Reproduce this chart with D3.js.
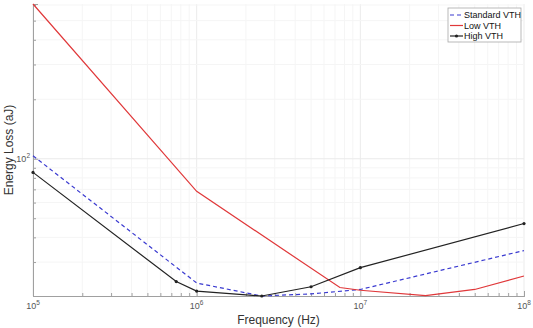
<!DOCTYPE html>
<html>
<head>
  <meta charset="utf-8">
  <title>Energy Loss</title>
  <script src="https://d3js.org/d3.v7.min.js"></script>
  <style>
    body { margin: 0; background: #fff; font-family: "Liberation Sans", Arial, sans-serif; }
    .axis path, .axis line { stroke: #a0a0a0; }
    .grid line { stroke: #f5f5f5; }
    .grid .major { stroke: #ebebeb; }
  </style>
</head>
<body>
<div id="vis"></div>
<script>
  // data
  var freqStd = [1e5, 1e6, 2.5e6, 5e6, 1e7, 1e8];
  var lossStd = [103.5, 23.5, 20.2, 20.7, 21.8, 34.3];

  var freqLow = [1e5, 1e6, 7.5e6, 1e7, 2.5e7, 5e7, 1e8];
  var lossLow = [607, 68.4, 22.3, 21.6, 20.3, 21.8, 25.5];

  var freqHigh = [1e5, 7.5e5, 1e6, 2.5e6, 5e6, 1e7, 1e8];
  var lossHigh = [85.3, 23.9, 21.4, 20.2, 22.5, 28.1, 47.0];

  var xMajor = [1e5, 1e6, 1e7, 1e8];
  var yMajor = [100];
  var seriesNames = ["Standard VTH", "Low VTH", "High VTH"];

  var width = 533, height = 328;
  var margin = { top: 4, right: 9, bottom: 32, left: 33 };
  var w = width - margin.left - margin.right,
      h = height - margin.top - margin.bottom;

  var svg = d3.select("#vis").append("svg")
    .attr("width", width).attr("height", height);
  var g = svg.append("g")
    .attr("transform", "translate(" + margin.left + "," + margin.top + ")");

  var x = d3.scaleLog().domain([1e5, 1e8]).range([0, w]);
  var allLoss = lossStd.concat(lossLow, lossHigh);
  var y = d3.scaleLog().domain(d3.extent(allLoss)).range([h, 0]);

  // minor tick positions
  var xMinor = [];
  xMajor.slice(0, -1).forEach(function (d) {
    for (var k = 2; k <= 9; k++) xMinor.push(d * k);
  });
  var yMinor = [];
  [10, 100].forEach(function (d) {
    for (var k = 1; k <= 9; k++) {
      var v = d * k;
      if (v !== 100 && v >= y.domain()[0] && v <= y.domain()[1]) yMinor.push(v);
    }
  });

  // grid
  var grid = g.append("g").attr("class", "grid");
  grid.selectAll(".vx").data(xMinor.concat(xMajor)).enter().append("line")
    .attr("class", d => xMajor.indexOf(d) >= 0 ? "major" : "minor")
    .attr("x1", d => x(d)).attr("x2", d => x(d))
    .attr("y1", 0).attr("y2", h);
  grid.selectAll(".hy").data(yMinor.concat(yMajor)).enter().append("line")
    .attr("class", d => yMajor.indexOf(d) >= 0 ? "major" : "minor")
    .attr("x1", 0).attr("x2", w)
    .attr("y1", d => y(d)).attr("y2", d => y(d));

  // axes: ticks pointing inward
  g.append("g").attr("class", "axis")
    .attr("transform", "translate(0," + h + ")")
    .call(d3.axisBottom(x).tickValues(xMinor).tickSize(-3).tickFormat(""));
  g.append("g").attr("class", "axis")
    .attr("transform", "translate(0," + h + ")")
    .call(d3.axisBottom(x).tickValues(xMajor).tickSize(-5).tickFormat(""));
  g.append("g").attr("class", "axis")
    .call(d3.axisLeft(y).tickValues(yMinor).tickSize(-3).tickFormat(""));
  g.append("g").attr("class", "axis")
    .call(d3.axisLeft(y).tickValues(yMajor).tickSize(-5).tickFormat(""));

  // power-of-ten labels
  xMajor.forEach(function (d) {
    var t = g.append("text")
      .attr("x", x(d)).attr("y", h + 13)
      .attr("text-anchor", "middle")
      .attr("fill", "#555").attr("font-size", "9px");
    t.append("tspan").text("10");
    t.append("tspan").attr("dy", -4).attr("font-size", "6.5px").text(Math.round(Math.log10(d)));
  });
  yMajor.forEach(function (d) {
    var t = g.append("text")
      .attr("x", -3).attr("y", y(d) + 3)
      .attr("text-anchor", "end")
      .attr("fill", "#555").attr("font-size", "9px");
    t.append("tspan").text("10");
    t.append("tspan").attr("dy", -4).attr("font-size", "6.5px").text(Math.round(Math.log10(d)));
  });

  // axis titles
  svg.append("text")
    .attr("x", margin.left + w / 2).attr("y", 324)
    .attr("text-anchor", "middle")
    .attr("fill", "#333").attr("font-size", "12px")
    .text("Frequency (Hz)");
  svg.append("text")
    .attr("transform", "translate(13," + (margin.top + h / 2) + ") rotate(-90)")
    .attr("text-anchor", "middle")
    .attr("fill", "#333").attr("font-size", "12px")
    .text("Energy Loss (aJ)");

  // series
  var line = d3.line().x(d => x(d[0])).y(d => y(d[1]));
  var series = [
    { name: seriesNames[0], pts: d3.zip(freqStd, lossStd), color: "#3a3ad0", dash: "4,3", marker: false },
    { name: seriesNames[1], pts: d3.zip(freqLow, lossLow), color: "#e0383a", dash: null, marker: false },
    { name: seriesNames[2], pts: d3.zip(freqHigh, lossHigh), color: "#222", dash: null, marker: true }
  ];

  series.forEach(function (s) {
    g.append("path")
      .datum(s.pts)
      .attr("fill", "none")
      .attr("stroke", s.color)
      .attr("stroke-width", 1.2)
      .attr("stroke-dasharray", s.dash)
      .attr("d", line);
    if (s.marker) {
      g.selectAll(".dot").data(s.pts).enter().append("circle")
        .attr("cx", d => x(d[0])).attr("cy", d => y(d[1]))
        .attr("r", 1.6).attr("fill", s.color);
    }
  });

  // legend
  var leg = svg.append("g").attr("transform", "translate(448,8)");
  leg.append("rect")
    .attr("width", 73).attr("height", 34)
    .attr("fill", "#fff").attr("stroke", "#a8a8a8").attr("stroke-width", 0.8);
  series.forEach(function (s, i) {
    var yy = 7 + i * 10.5;
    leg.append("line")
      .attr("x1", 2).attr("x2", 15).attr("y1", yy).attr("y2", yy)
      .attr("stroke", s.color).attr("stroke-width", 1.2)
      .attr("stroke-dasharray", s.dash);
    if (s.marker) {
      leg.append("circle").attr("cx", 8.5).attr("cy", yy).attr("r", 1.6).attr("fill", s.color);
    }
    leg.append("text")
      .attr("x", 16).attr("y", yy + 3.2)
      .attr("font-size", "9px").attr("fill", "#111")
      .text(s.name);
  });
</script>
</body>
</html>
